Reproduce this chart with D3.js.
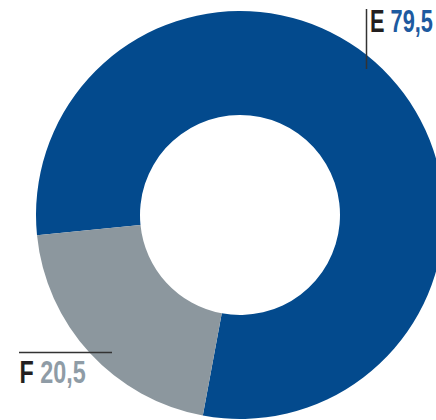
<!DOCTYPE html>
<html>
<head>
<meta charset="utf-8">
<script src="https://cdn.jsdelivr.net/npm/d3@7"></script>
<style>
  html, body { margin: 0; padding: 0; background: #fff; }
  svg { display: block; }
</style>
</head>
<body>
<script>
const categories = ["E", "F"];
const values = [79.5, 20.5];
const valueLabels = ["79,5", "20,5"];
const colors = ["#034a8d", "#8c979e"];
const labelColors = ["#1d5aa0", "#8f9ca6"];

const W = 436, H = 420;
const cx = 240, cy = 215, rOuter = 204, rInner = 100;

const svg = d3.select("body").append("svg")
  .attr("width", W).attr("height", H);

const data = categories.map((c, i) => ({ cat: c, value: values[i], label: valueLabels[i] }));

const startDeg = -95.7;
const pie = d3.pie().value(d => d.value).sort(null)
  .startAngle(startDeg * Math.PI / 180)
  .endAngle((startDeg + 360) * Math.PI / 180);
const arc = d3.arc().innerRadius(rInner).outerRadius(rOuter);

const g = svg.append("g").attr("transform", `translate(${cx},${cy})`);
g.selectAll("path").data(pie(data)).join("path")
  .attr("d", arc)
  .attr("fill", (d, i) => colors[i]);

const font = "'Liberation Sans', Arial, sans-serif";

function addLabel(x, y, i, sx) {
  const t = svg.append("text")
    .attr("transform", `translate(${x},${y}) scale(${sx},1)`)
    .attr("font-family", font).attr("font-weight", "bold").attr("font-size", 32);
  t.append("tspan").attr("fill", "#231f20").text(categories[i] + " ");
  t.append("tspan").attr("fill", labelColors[i]).text(valueLabels[i]);
}

// E label (top right) with vertical leader
svg.append("line").attr("x1", 366.5).attr("x2", 366.5).attr("y1", 9).attr("y2", 69)
  .attr("stroke", "#333").attr("stroke-width", 1.5);
addLabel(370, 32, 0, 0.68);

// F label (bottom left) with horizontal leader
svg.append("line").attr("x1", 19).attr("x2", 112).attr("y1", 352.5).attr("y2", 352.5)
  .attr("stroke", "#333").attr("stroke-width", 1.5);
addLabel(19.5, 382.5, 1, 0.73);
</script>
</body>
</html>
